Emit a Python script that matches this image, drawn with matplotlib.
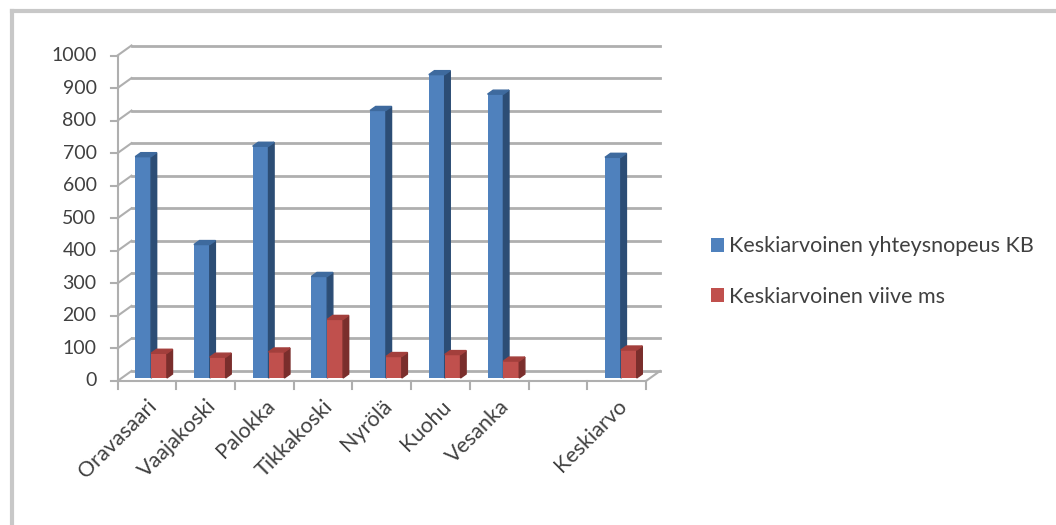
import matplotlib
matplotlib.use('Agg')
import matplotlib.pyplot as plt
from matplotlib.patches import Polygon
from matplotlib.lines import Line2D

plt.rcParams['font.family'] = ['Lato', 'DejaVu Sans']

categories = ['Oravasaari', 'Vaajakoski', 'Palokka', 'Tikkakoski', 'Nyrölä',
              'Kuohu', 'Vesanka', '', 'Keskiarvo']
speed = [680, 410, 712, 312, 822, 932, 872, None, 678]
delay = [76, 64, 80, 180, 66, 72, 52, None, 86]
series_names = ['Keskiarvoinen yhteysnopeus KB', 'Keskiarvoinen viive ms']
yticks = list(range(0, 1001, 100))

blue = ('#4F81BD', '#2C4D75', '#3E6A9E')
red = ('#C0504D', '#7A2E2C', '#A33F3C')
grid_c = '#AFAFAF'
text_c = '#404040'

fig = plt.figure(figsize=(10.56, 5.25), dpi=100)
W, H = 1056, 525
x0, x1 = 117.5, 646.0
y0, y1 = 381.0, 55.5
ax = fig.add_axes([x0 / W, 1 - y0 / H, (x1 - x0) / W, (y0 - y1) / H])
n = len(categories)
ax.set_xlim(0, n)
ax.set_ylim(0, 1000)
ax.axis('off')

ppx = (x1 - x0) / n
ppy = (y0 - y1) / 1000
DX, DY = 14 / ppx, 10 / ppy

# back wall gridlines + left wall diagonals
for v in yticks:
    ax.plot([DX, n + DX], [v + DY, v + DY], color=grid_c, lw=2, clip_on=False, zorder=1)
    ax.plot([0, DX], [v, v + DY], color=grid_c, lw=1.5, clip_on=False, zorder=1)
    ax.plot([-7 / ppx, 0], [v, v], color=grid_c, lw=1.5, clip_on=False, zorder=1)
    ax.text(-21 / ppx, v, str(v), ha='right', va='center', fontsize=14, color=text_c)

# front axis lines
ax.plot([0, 0], [0, 1000], color=grid_c, lw=1.5, clip_on=False, zorder=1)
ax.plot([0, n], [0, 0], color=grid_c, lw=1.5, clip_on=False, zorder=1)
ax.plot([n, n + DX], [0, DY], color=grid_c, lw=1.5, clip_on=False, zorder=1)
for i in range(n + 1):
    ax.plot([i, i], [0, -8 / ppy], color=grid_c, lw=1.5, clip_on=False, zorder=1)

# 3D bars
f0, f1 = 0.3, 0.7
bw = 0.27
ddx, ddy = (f1 - f0) * DX, (f1 - f0) * DY
handles = []
for s, (vals, cols) in enumerate([(speed, blue), (delay, red)]):
    xs = [i + 0.23 + s * bw + f0 * DX for i in range(n) if vals[i] is not None]
    hs = [vals[i] for i in range(n) if vals[i] is not None]
    bars = ax.bar(xs, hs, width=bw, bottom=f0 * DY, align='edge', color=cols[0],
                  label=series_names[s], zorder=3 + s)
    handles.append(bars)
    for b in bars:
        xl, xr = b.get_x(), b.get_x() + b.get_width()
        yb, yt = b.get_y(), b.get_y() + b.get_height()
        ax.add_patch(Polygon([(xr, yb), (xr + ddx, yb + ddy), (xr + ddx, yt + ddy), (xr, yt)],
                             closed=True, color=cols[1], zorder=3 + s))
        ax.add_patch(Polygon([(xl, yt), (xr, yt), (xr + ddx, yt + ddy), (xl + ddx, yt + ddy)],
                             closed=True, color=cols[2], zorder=3 + s))

# category labels
for i, c in enumerate(categories):
    if c:
        ax.text(i + 0.5, -15 / ppy, c, rotation=45, ha='right', va='top',
                rotation_mode='anchor', fontsize=15.5, color=text_c)

# legend
fig.legend(handles=handles, labels=series_names, loc='upper left',
           bbox_to_anchor=(692 / W, 1 - 217 / H), frameon=False, fontsize=15.5,
           handlelength=0.6, handleheight=0.6, handletextpad=0.2, labelspacing=1.4,
           labelcolor=text_c)

# outer chart frame (top and left only visible)
fig.add_artist(Line2D([12 / W, 12 / W], [0, 1 - 11 / H], color='#C8C8C8', lw=3,
                      transform=fig.transFigure))
fig.add_artist(Line2D([12 / W, 1], [1 - 11 / H, 1 - 11 / H], color='#C8C8C8', lw=3,
                      transform=fig.transFigure))

fig.savefig('out.png', dpi=100)
